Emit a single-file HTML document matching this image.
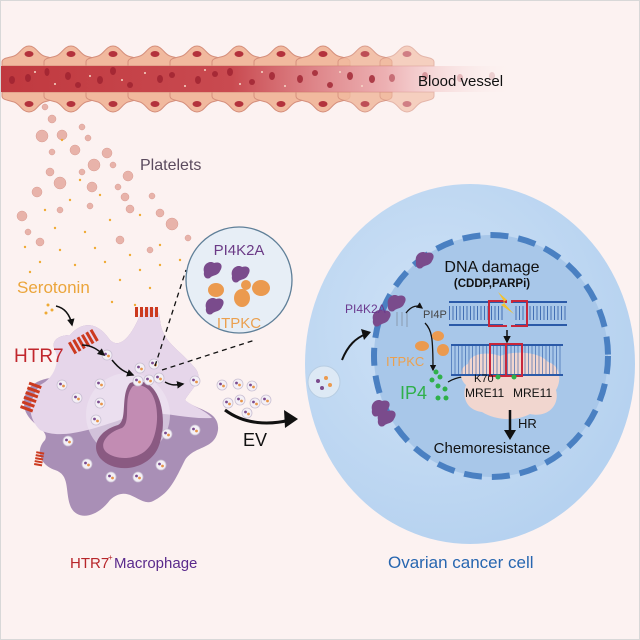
<!DOCTYPE html>
<html><head><meta charset="utf-8"><style>
html,body{margin:0;padding:0;background:#fcf2f1}
svg{display:block;font-family:"Liberation Sans",sans-serif}
</style></head><body>
<svg width="640" height="640" viewBox="0 0 640 640" xmlns="http://www.w3.org/2000/svg">
<defs>
<linearGradient id="ves" x1="0" x2="1" y1="0" y2="0">
<stop offset="0" stop-color="#c0393f"/><stop offset="0.45" stop-color="#c94a50"/><stop offset="0.75" stop-color="#e9a0a3" stop-opacity="0.8"/><stop offset="1" stop-color="#fcf2f1" stop-opacity="0"/></linearGradient>
<radialGradient id="cell" cx="0.4" cy="0.4" r="0.7"><stop offset="0" stop-color="#cfe2f6"/><stop offset="1" stop-color="#b3d0ef"/></radialGradient>
<g id="ec"><path d="M0 20 L0 16 C0 12 6 12 12 10 C18 8 20 0 27 0 C34 0 36 8 42 10 C48 12 54 12 54 16 L54 20 Z" fill="#f1b99e" stroke="#d58f7c" stroke-width="1"/><ellipse cx="27" cy="8" rx="4.5" ry="3" fill="#b3323c"/></g>
<g id="ev"><circle r="5" fill="#f4f0f6" stroke="#c9bfd3" stroke-width="0.8"/><circle cx="-1.5" cy="-1" r="1.4" fill="#7b4b8e"/><circle cx="1.5" cy="1" r="1.4" fill="#e8954a"/></g>
<marker id="ah" viewBox="0 0 10 10" refX="8" refY="5" markerWidth="5" markerHeight="5" orient="auto"><path d="M0 0 L10 5 L0 10 Z" fill="#111"/></marker>
</defs>
<rect width="640" height="640" fill="#fcf2f1"/>
<!-- vessel -->
<g>
<g id="row"><use href="#ec" x="2" y="46"/><use href="#ec" x="44" y="46"/><use href="#ec" x="86" y="46"/><use href="#ec" x="128" y="46"/><use href="#ec" x="170" y="46"/><use href="#ec" x="212" y="46"/><use href="#ec" x="254" y="46"/><use href="#ec" x="296" y="46"/><use href="#ec" x="338" y="46" opacity="0.85"/><use href="#ec" x="380" y="46" opacity="0.6"/></g>
<g transform="translate(0,158) scale(1,-1)"><use href="#row"/></g>
<rect x="0" y="66" width="515" height="26" fill="url(#ves)"/>
<g fill="#9e2230" opacity="0.8">
<ellipse cx="12" cy="80" rx="3" ry="4"/><ellipse cx="28" cy="78" rx="3" ry="4"/><ellipse cx="47" cy="72" rx="2.5" ry="4"/><ellipse cx="68" cy="76" rx="3" ry="4"/><ellipse cx="78" cy="85" rx="3" ry="3"/><ellipse cx="100" cy="80" rx="3" ry="4"/><ellipse cx="113" cy="71" rx="3" ry="4"/><ellipse cx="130" cy="85" rx="3" ry="3"/><ellipse cx="160" cy="79" rx="3" ry="4"/><ellipse cx="172" cy="75" rx="3" ry="3"/><ellipse cx="198" cy="80" rx="3" ry="4"/><ellipse cx="215" cy="74" rx="3" ry="3"/><ellipse cx="230" cy="72" rx="3" ry="4"/><ellipse cx="252" cy="82" rx="3" ry="3"/><ellipse cx="272" cy="76" rx="3" ry="4"/><ellipse cx="300" cy="79" rx="3" ry="4"/><ellipse cx="315" cy="73" rx="3" ry="3"/><ellipse cx="330" cy="85" rx="3" ry="3"/><ellipse cx="350" cy="76" rx="3" ry="4"/><ellipse cx="372" cy="79" rx="3" ry="4"/><ellipse cx="392" cy="78" rx="3" ry="4" opacity="0.6"/><ellipse cx="425" cy="76" rx="3" ry="4" opacity="0.4"/><ellipse cx="460" cy="78" rx="3" ry="4" opacity="0.3"/><ellipse cx="492" cy="76" rx="3" ry="4" opacity="0.2"/>
</g>
<g fill="#f6d8c8"><circle cx="35" cy="72" r="1"/><circle cx="55" cy="84" r="1"/><circle cx="90" cy="76" r="1"/><circle cx="122" cy="80" r="1"/><circle cx="145" cy="73" r="1"/><circle cx="185" cy="86" r="1"/><circle cx="205" cy="70" r="1"/><circle cx="240" cy="84" r="1"/><circle cx="262" cy="72" r="1"/><circle cx="285" cy="86" r="1"/><circle cx="340" cy="72" r="1"/><circle cx="362" cy="86" r="1"/></g>
<text x="418" y="86" font-size="15" fill="#111">Blood vessel</text>
</g>
<!-- platelets -->
<g fill="#e8b3aa" stroke="#d99c92" stroke-width="0.5">
<circle cx="45" cy="107" r="3"/><circle cx="52" cy="119" r="4"/><circle cx="42" cy="136" r="6"/><circle cx="62" cy="135" r="5"/><circle cx="82" cy="127" r="3"/><circle cx="88" cy="138" r="3"/><circle cx="75" cy="150" r="5"/><circle cx="52" cy="152" r="3"/><circle cx="107" cy="153" r="5"/><circle cx="94" cy="165" r="6"/><circle cx="113" cy="165" r="3"/><circle cx="50" cy="172" r="4"/><circle cx="82" cy="172" r="3"/><circle cx="128" cy="176" r="5"/><circle cx="60" cy="183" r="6"/><circle cx="92" cy="187" r="5"/><circle cx="118" cy="187" r="3"/><circle cx="37" cy="192" r="5"/><circle cx="125" cy="197" r="4"/><circle cx="152" cy="196" r="3"/><circle cx="160" cy="213" r="4"/><circle cx="130" cy="209" r="4"/><circle cx="22" cy="216" r="5"/><circle cx="90" cy="206" r="3"/><circle cx="172" cy="224" r="6"/><circle cx="60" cy="210" r="3"/><circle cx="28" cy="232" r="3"/><circle cx="40" cy="242" r="4"/><circle cx="120" cy="240" r="4"/><circle cx="150" cy="250" r="3"/><circle cx="188" cy="238" r="3"/>
</g>
<g fill="#efaa35">
<circle cx="62" cy="140" r="1.2"/><circle cx="80" cy="180" r="1.2"/><circle cx="70" cy="200" r="1.2"/><circle cx="100" cy="195" r="1.2"/><circle cx="45" cy="210" r="1.2"/><circle cx="110" cy="220" r="1.2"/><circle cx="140" cy="215" r="1.2"/><circle cx="55" cy="228" r="1.2"/><circle cx="85" cy="232" r="1.2"/><circle cx="25" cy="247" r="1.2"/><circle cx="60" cy="250" r="1.2"/><circle cx="95" cy="248" r="1.2"/><circle cx="130" cy="255" r="1.2"/><circle cx="160" cy="245" r="1.2"/><circle cx="40" cy="262" r="1.2"/><circle cx="75" cy="265" r="1.2"/><circle cx="105" cy="262" r="1.2"/><circle cx="140" cy="270" r="1.2"/><circle cx="30" cy="272" r="1.2"/><circle cx="120" cy="280" r="1.2"/><circle cx="160" cy="265" r="1.2"/><circle cx="150" cy="288" r="1.2"/><circle cx="112" cy="302" r="1.2"/><circle cx="135" cy="305" r="1.2"/><circle cx="48" cy="305" r="1.5"/><circle cx="52" cy="310" r="1.5"/><circle cx="46" cy="313" r="1.5"/><circle cx="180" cy="260" r="1.2"/>
</g>
<text x="140" y="170" font-size="16" fill="#5b4b5e">Platelets</text>
<text x="17" y="293" font-size="17" fill="#eba53b">Serotonin</text>
<!-- macrophage -->
<path d="M70 335 C85 318 100 325 110 340 C120 350 132 335 140 315 C146 303 160 306 160 320 C162 342 178 348 195 368 C205 380 190 390 185 400 C195 410 220 410 218 430 C215 450 195 445 185 460 C175 480 170 492 155 500 C140 510 130 482 110 500 C95 520 75 520 70 505 C65 490 70 475 55 470 C40 465 35 450 45 440 C50 430 30 425 25 410 C20 390 35 380 50 378 C60 375 60 360 55 350 C50 340 60 335 70 335 Z" fill="#a98fb6"/>
<path d="M70 335 C85 318 100 325 110 340 C120 350 132 335 140 315 C146 303 160 306 160 320 C162 342 178 348 195 368 C205 380 190 390 185 400 C192 406 205 410 212 418 C180 420 150 405 120 420 C90 430 60 440 40 430 C30 420 25 405 40 385 C55 378 60 360 55 350 C50 340 60 335 70 335 Z" fill="#e6d6ea"/>
<circle cx="128" cy="415" r="42" fill="#efe4f1" opacity="0.6"/>
<path d="M130 383 C160 372 170 420 158 448 C148 470 115 475 100 458 C90 445 100 430 118 425 C128 420 120 395 130 383 Z" fill="#8a5a82"/>
<path d="M133 386 C158 380 162 420 152 442 C144 460 118 462 106 452 C98 444 108 432 122 428 C132 422 122 398 133 386 Z" fill="#c28cb3"/>
<text x="14" y="362" font-size="19" fill="#c1272d">HTR7</text>
<g>
<use href="#ev" x="107" y="355"/><use href="#ev" x="140" y="368"/><use href="#ev" x="154" y="364"/><use href="#ev" x="138" y="381"/><use href="#ev" x="149" y="380"/><use href="#ev" x="159" y="378"/><use href="#ev" x="195" y="381"/><use href="#ev" x="62" y="385"/><use href="#ev" x="100" y="384"/><use href="#ev" x="77" y="398"/><use href="#ev" x="100" y="403"/><use href="#ev" x="96" y="420"/><use href="#ev" x="68" y="441"/><use href="#ev" x="167" y="434"/><use href="#ev" x="195" y="430"/><use href="#ev" x="87" y="464"/><use href="#ev" x="161" y="465"/><use href="#ev" x="111" y="477"/><use href="#ev" x="138" y="477"/>
<use href="#ev" x="222" y="385"/><use href="#ev" x="238" y="384"/><use href="#ev" x="252" y="386"/><use href="#ev" x="240" y="400"/><use href="#ev" x="255" y="403"/><use href="#ev" x="266" y="400"/><use href="#ev" x="228" y="403"/><use href="#ev" x="247" y="413"/>
</g>
<!-- receptors -->
<g fill="#cc3a1f">
<g transform="translate(68,343) rotate(-30)"><rect x="0" y="0" width="3" height="13"/><rect x="5" y="0" width="3" height="13"/><rect x="10" y="0" width="3" height="13"/><rect x="15" y="0" width="3" height="13"/><rect x="20" y="0" width="3" height="13"/><rect x="25" y="0" width="3" height="13"/></g>
<g transform="translate(135,307)"><rect x="0" y="0" width="3" height="10"/><rect x="5" y="0" width="3" height="10"/><rect x="10" y="0" width="3" height="10"/><rect x="15" y="0" width="3" height="10"/><rect x="20" y="0" width="3" height="10"/></g>
<g transform="translate(20,408) rotate(-70)"><rect x="0" y="0" width="3" height="13"/><rect x="5" y="0" width="3" height="13"/><rect x="10" y="0" width="3" height="13"/><rect x="15" y="0" width="3" height="13"/><rect x="20" y="0" width="3" height="13"/><rect x="25" y="0" width="3" height="13"/></g>
<g transform="translate(34,465) rotate(-80)"><rect x="0" y="0" width="2" height="8"/><rect x="3" y="0" width="2" height="8"/><rect x="6" y="0" width="2" height="8"/><rect x="9" y="0" width="2" height="8"/><rect x="12" y="0" width="2" height="8"/></g>
</g>
<g fill="none" stroke="#111" stroke-width="1.5">
<path d="M56 306 C65 308 70 315 72 325" marker-end="url(#ah)"/>
<path d="M82 345 C92 345 98 350 104 355" marker-end="url(#ah)"/>
<path d="M112 360 C120 370 125 372 133 375" marker-end="url(#ah)"/>
<path d="M165 382 C172 386 176 385 183 384" marker-end="url(#ah)"/>
</g>
<!-- inset -->
<line x1="155" y1="366" x2="186" y2="270" stroke="#111" stroke-width="1.3" stroke-dasharray="5,4"/>
<line x1="162" y1="370" x2="255" y2="340" stroke="#111" stroke-width="1.3" stroke-dasharray="5,4"/>
<circle cx="239" cy="280" r="53" fill="#e7eef6" stroke="#5f7f98" stroke-width="1.3"/>
<text x="239" y="255" font-size="15" fill="#6b3a86" text-anchor="middle">PI4K2A</text>
<text x="239" y="328" font-size="15" fill="#eba04f" text-anchor="middle">ITPKC</text>
<g fill="#7a4b8c"><path d="M204 272 c-2 -8 6 -12 10 -9 c6 -2 10 2 6 8 c-2 5 -8 4 -10 7 c-4 2 -7 -2 -6 -6z"/><path d="M232 276 c-2 -8 6 -12 10 -9 c6 -2 10 2 6 8 c-2 5 -8 4 -10 7 c-4 2 -7 -2 -6 -6z"/><path d="M206 308 c-2 -8 6 -12 10 -9 c6 -2 10 2 6 8 c-2 5 -8 4 -10 7 c-4 2 -7 -2 -6 -6z"/></g>
<g fill="#eb9a4f"><ellipse cx="216" cy="290" rx="8" ry="7"/><ellipse cx="242" cy="298" rx="8" ry="9"/><ellipse cx="261" cy="288" rx="9" ry="8"/><ellipse cx="246" cy="285" rx="5" ry="5"/></g>
<!-- EV arrow -->
<path d="M225 410 C245 425 270 425 290 420" fill="none" stroke="#111" stroke-width="3"/>
<path d="M284 410 L298 419 L285 428 Z" fill="#111"/>
<text x="243" y="446" font-size="18" fill="#111">EV</text>
<!-- cancer cell -->
<ellipse cx="470" cy="364" rx="165" ry="180" fill="url(#cell)"/>
<ellipse cx="491" cy="356" rx="117" ry="121" fill="#a8c7e9"/>
<ellipse cx="491" cy="356" rx="117" ry="121" fill="none" stroke="#4a80c2" stroke-width="6" stroke-dasharray="18,10"/>
<circle cx="324" cy="382" r="16" fill="#dde9f5" stroke="#b7cde2" stroke-width="1"/>
<g fill="#7b4b8c"><circle cx="318" cy="381" r="2"/><circle cx="322" cy="388" r="2"/></g><g fill="#eb9a4f"><circle cx="326" cy="378" r="2"/><circle cx="330" cy="385" r="2"/></g>
<path d="M342 360 C348 345 356 338 366 334" fill="none" stroke="#111" stroke-width="2"/><path d="M361 329 L371 332 L364 340 Z" fill="#111"/>
<g fill="#7a4b8c">
<path d="M373 320 c-2 -8 6 -12 10 -9 c6 -2 10 2 6 8 c-2 5 -8 4 -10 7 c-4 2 -7 -2 -6 -6z"/><path d="M388 305 c-2 -8 6 -12 10 -9 c6 -2 10 2 6 8 c-2 5 -8 4 -10 7 c-4 2 -7 -2 -6 -6z"/>
<path d="M416 262 c-2 -8 6 -12 10 -9 c6 -2 10 2 6 8 c-2 5 -8 4 -10 7 c-4 2 -7 -2 -6 -6z"/><path d="M372 410 c-2 -8 6 -12 10 -9 c6 -2 10 2 6 8 c-2 5 -8 4 -10 7 c-4 2 -7 -2 -6 -6z"/><path d="M378 420 c-2 -8 6 -12 10 -9 c6 -2 10 2 6 8 c-2 5 -8 4 -10 7 c-4 2 -7 -2 -6 -6z"/>
</g>
<text x="345" y="313" font-size="12" fill="#6b3a8f">PI4K2A</text>
<g stroke="#8a9bb0" stroke-width="1" fill="none"><line x1="397" y1="312" x2="397" y2="326"/><line x1="402" y1="312" x2="402" y2="326"/><line x1="407" y1="313" x2="407" y2="327"/></g>
<text x="423" y="318" font-size="11" fill="#444">PI4P</text>
<path d="M406 313 C412 305 418 305 422 308" fill="none" stroke="#111" stroke-width="1.3" marker-end="url(#ah)"/>
<path d="M425 323 C432 330 433 338 433 370" fill="none" stroke="#111" stroke-width="1.3" marker-end="url(#ah)"/>
<g fill="#eb9a4f"><ellipse cx="438" cy="336" rx="6" ry="5"/><ellipse cx="422" cy="346" rx="7" ry="5"/><ellipse cx="443" cy="350" rx="6" ry="6"/></g>
<text x="386" y="366" font-size="13" fill="#eba04f">ITPKC</text>
<g fill="#2fb04a"><circle cx="436" cy="372" r="2.5"/><circle cx="440" cy="377" r="2.5"/><circle cx="432" cy="380" r="2.5"/><circle cx="438" cy="386" r="2.5"/><circle cx="445" cy="389" r="2.5"/><circle cx="446" cy="398" r="2.5"/><circle cx="438" cy="398" r="2.5"/></g>
<text x="400" y="399" font-size="18" fill="#2fb04a">IP4</text>
<path d="M448 382 C458 376 468 376 474 378" fill="none" stroke="#111" stroke-width="1.3" marker-end="url(#ah)"/>
<text x="492" y="272" font-size="16" fill="#111" text-anchor="middle">DNA damage</text>
<text x="492" y="287" font-size="11.5" font-weight="bold" fill="#111" text-anchor="middle">(CDDP,PARPi)</text>
<!-- DNA strands -->
<g>
<line x1="449" y1="302" x2="506" y2="302" stroke="#2b5aa8" stroke-width="2"/><line x1="449" y1="325" x2="506" y2="325" stroke="#2b5aa8" stroke-width="2"/>
<line x1="512" y1="302" x2="567" y2="302" stroke="#2b5aa8" stroke-width="2"/><line x1="512" y1="325" x2="567" y2="325" stroke="#2b5aa8" stroke-width="2"/>
<line x1="449" y1="313" x2="567" y2="313" stroke="#2b5aa8" stroke-width="14" stroke-dasharray="1,2.5" opacity="0.8"/>
<rect x="489" y="301" width="17" height="25" fill="none" stroke="#c8263a" stroke-width="2"/><rect x="512" y="301" width="15" height="25" fill="none" stroke="#c8263a" stroke-width="2"/>
<rect x="503" y="303" width="12" height="22" fill="#a8c7e9"/>
<path d="M498 292 L507 300 L503 302 L514 314 L501 305 L505 303 Z" fill="#f2c230"/>
<line x1="507" y1="330" x2="507" y2="342" stroke="#111" stroke-width="1.5" marker-end="url(#ah)"/>
<path d="M468 364 C470 352 490 352 500 356 C515 350 540 352 548 362 C560 365 562 380 556 390 C560 405 548 418 530 414 C515 422 495 420 482 412 C465 410 462 395 466 385 C458 378 460 367 468 364 Z" fill="#f1d6cf"/>
<line x1="451" y1="345" x2="563" y2="345" stroke="#2b5aa8" stroke-width="2"/><line x1="451" y1="375" x2="563" y2="375" stroke="#2b5aa8" stroke-width="2"/>
<line x1="451" y1="360" x2="563" y2="360" stroke="#2b5aa8" stroke-width="28" stroke-dasharray="1,2.5" opacity="0.6"/>
<rect x="490" y="344" width="32" height="32" fill="none" stroke="#c8263a" stroke-width="2"/><line x1="506" y1="344" x2="506" y2="376" stroke="#c8263a" stroke-width="2"/>
</g>
<text x="474" y="382" font-size="11" fill="#111">K70</text>
<circle cx="498" cy="377" r="2.5" fill="#2fb04a"/><circle cx="514" cy="377" r="2.5" fill="#2fb04a"/>
<text x="465" y="397" font-size="12" fill="#111">MRE11</text><text x="513" y="397" font-size="12" fill="#111">MRE11</text>
<line x1="510" y1="410" x2="510" y2="432" stroke="#111" stroke-width="2.5"/><path d="M504 430 L510 440 L516 430 Z" fill="#111"/>
<text x="518" y="428" font-size="13" fill="#111">HR</text>
<text x="492" y="453" font-size="15" fill="#111" text-anchor="middle">Chemoresistance</text>
<!-- bottom labels -->
<text x="70" y="568" font-size="15" fill="#b7262a">HTR7</text>
<text x="108" y="560" font-size="8" fill="#b7262a">+</text>
<text x="114" y="568" font-size="15" fill="#5a2a8c">Macrophage</text>
<text x="388" y="568" font-size="17" fill="#2766b0">Ovarian cancer cell</text>
<rect x="0.5" y="0.5" width="639" height="639" fill="none" stroke="#d8d8d8" stroke-width="1"/>
</svg>
</body></html>
